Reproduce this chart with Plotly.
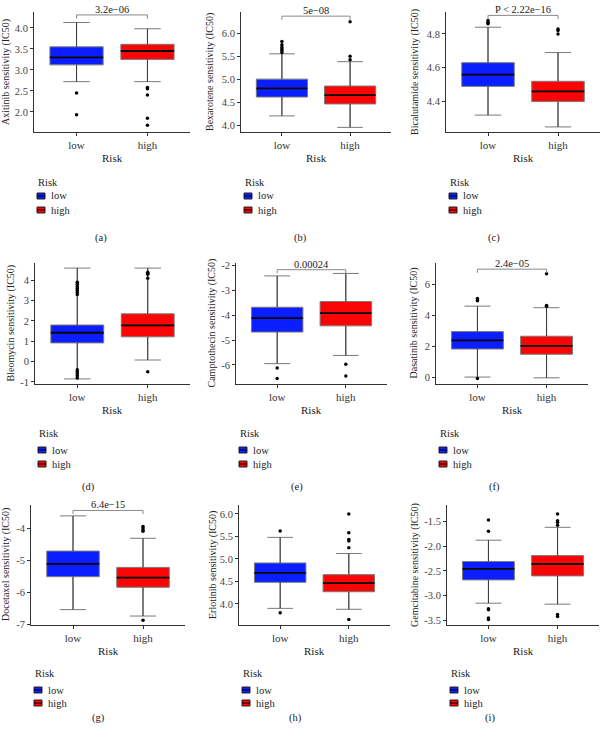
import plotly.graph_objects as go

W, H = 602, 731
FONT = "Liberation Serif"

drugs = ["Axitinib", "Bexarotene", "Bicalutamide", "Bleomycin", "Camptothecin",
         "Dasatinib", "Docetaxel", "Erlotinib", "Gemcitabine"]
pvals = ["3.2e\u221206", "5e\u221208", "P < 2.22e\u221216", "1.1e\u221209", "0.00024",
         "2.4e\u221205", "6.4e\u221215", "2.9e\u221215", "0.0002"]
has_bracket = [True, True, True, False, True, True, True, False, False]
bracket_y = [4.31, 6.37, 4.91, 5.35, -2.17, 7.0, -3.45, 6.23, -1.16]
panel_tags = ["(a)", "(b)", "(c)", "(d)", "(e)", "(f)", "(g)", "(h)", "(i)"]
groups = ["low", "high"]

# box statistics
low_q1 = [3.12, 4.61, 4.49, 0.92, -4.68, 1.82, -5.52, 4.48, -2.68]
low_med = [3.30, 4.80, 4.56, 1.42, -4.12, 2.38, -5.12, 4.69, -2.46]
low_q3 = [3.55, 5.00, 4.63, 1.80, -3.68, 2.95, -4.72, 4.91, -2.31]
low_lo = [2.72, 4.20, 4.32, -0.85, -5.95, 0.00, -6.55, 3.90, -3.15]
low_hi = [4.13, 5.55, 4.84, 4.60, -2.42, 4.60, -3.62, 5.48, -1.88]
low_out = [[2.45, 1.93],
           [5.58, 5.62, 5.66, 5.70, 5.75, 5.82],
           [4.86, 4.87, 4.88],
           [3.3, 3.4, 3.5, 3.6, 3.7, 3.8, 3.9, -0.4, -0.5, -0.6, -0.7, -0.8],
           [-6.13, -6.55],
           [4.95, 5.0, 5.1, -0.1],
           [],
           [5.62, 3.80],
           [-1.47, -1.70, -3.26, -3.28, -3.45, -3.48]]
high_q1 = [3.25, 4.46, 4.40, 1.22, -4.43, 1.48, -5.85, 4.27, -2.60]
high_med = [3.45, 4.65, 4.46, 1.78, -3.92, 2.02, -5.55, 4.46, -2.36]
high_q3 = [3.61, 4.85, 4.52, 2.35, -3.45, 2.65, -5.23, 4.65, -2.19]
high_lo = [2.72, 3.95, 4.25, 0.08, -5.62, -0.05, -6.75, 3.88, -3.17]
high_hi = [3.98, 5.38, 4.69, 4.60, -2.32, 4.50, -4.32, 5.12, -1.62]
high_out = [[2.58, 2.55, 2.40, 1.85, 1.68],
            [5.42, 5.50, 6.25],
            [4.80, 4.82, 4.83],
            [4.1, 4.3, 4.35, 4.4, -0.5],
            [-5.98, -6.45],
            [4.6, 4.65, 6.7],
            [-3.95, -4.0, -4.05, -4.1, -6.88],
            [5.25, 5.40, 5.43, 5.58, 6.0, 3.65],
            [-1.35, -1.49, -1.52, -1.58, -3.38, -3.42]]

# y-axis ticks
y_ticks = [[2.0, 2.5, 3.0, 3.5, 4.0], [4.0, 4.5, 5.0, 5.5, 6.0], [4.4, 4.6, 4.8],
           [-1, 0, 1, 2, 3, 4], [-6, -5, -4, -3, -2], [0, 2, 4, 6],
           [-7, -6, -5, -4], [4.0, 4.5, 5.0, 5.5, 6.0], [-3.5, -3.0, -2.5, -2.0, -1.5]]
y_fmt = [".1f", ".1f", ".1f", ".0f", ".0f", ".0f", ".0f", ".1f", ".1f"]
y_ranges = [[1.52, 4.38], [3.85, 6.46], [4.22, 4.93], [-1.1, 4.85], [-6.77, -1.9],
            [-0.45, 7.4], [-7.03, -3.28], [3.53, 6.2], [-3.59, -1.17]]

# layout (pixel positions)
x_px = [(34, 190), (241, 391), (446, 600),
        (35, 190), (236, 387), (436, 588),
        (31, 185), (239, 390), (447, 599)]
y_px = [(12, 132)] * 3 + [(263, 384)] * 3 + [(505, 625)] * 3
ytitle_x = [6, 210, 415, 10, 211, 413, 6, 213, 415]
tag_pos = [(93, 230), (300, 230), (502, 230),
           (80, 487), (297, 487), (502, 487),
           (90, 726), (295, 726), (497, 726)]
legend_rows_y = [(182, 196, 210)] * 3 + [(433, 450, 464)] * 3 + [(673, 690, 703)] * 3

colors = {"low": "#0a1eff", "high": "#fa0505"}
BOXW = 0.75
TXT = "#222222"


def px(x, y):
    return x / W, 1 - y / H


fig = go.Figure()
annotations = []
shapes = []

for i in range(9):
    ax = "" if i == 0 else str(i + 1)
    xa, ya = "x" + ax, "y" + ax
    stats = {
        "low": (low_q1[i], low_med[i], low_q3[i], low_lo[i], low_hi[i], low_out[i]),
        "high": (high_q1[i], high_med[i], high_q3[i], high_lo[i], high_hi[i], high_out[i]),
    }
    for gi, g in enumerate(groups):
        q1, md, q3, lo, hi, outs = stats[g]
        fig.add_trace(go.Box(
            x=[gi], q1=[q1], median=[md], q3=[q3], lowerfence=[lo], upperfence=[hi],
            width=BOXW, fillcolor=colors[g], line=dict(color="#7a7a7a", width=1),
            boxpoints=False, name=g, xaxis=xa, yaxis=ya, showlegend=False,
            hoverinfo="skip"))
        # darker whiskers
        fig.add_trace(go.Scatter(
            x=[gi, gi, None, gi, gi], y=[lo, q1, None, q3, hi], mode="lines",
            line=dict(color="#3a3a3a", width=1), showlegend=False,
            xaxis=xa, yaxis=ya, hoverinfo="skip"))
        # median
        fig.add_trace(go.Scatter(
            x=[gi - BOXW / 2, gi + BOXW / 2], y=[md, md], mode="lines",
            line=dict(color="black", width=1.8), showlegend=False,
            xaxis=xa, yaxis=ya, hoverinfo="skip"))
        if outs:
            fig.add_trace(go.Scatter(
                x=[gi] * len(outs), y=outs, mode="markers",
                marker=dict(color="black", size=3.5), showlegend=False,
                xaxis=xa, yaxis=ya, hoverinfo="skip"))

    x0, x1 = x_px[i][0] / W, x_px[i][1] / W
    y1, y0 = 1 - y_px[i][0] / H, 1 - y_px[i][1] / H
    yr = y_ranges[i]
    fmt = y_fmt[i]
    fig.update_layout(**{
        "xaxis" + ax: dict(domain=[x0, x1], range=[-0.6, 1.6], anchor=ya,
                           automargin=False,
                           tickvals=[0, 1], ticktext=groups, showline=True,
                           linecolor="#333333", linewidth=1, ticks="outside",
                           ticklen=3, tickcolor="#333333", showgrid=False, zeroline=False,
                           tickfont=dict(family=FONT, size=11, color="#333333")),
        "yaxis" + ax: dict(domain=[y0, y1], range=yr, anchor=xa, automargin=False,
                           tickvals=y_ticks[i],
                           ticktext=[format(v, fmt) for v in y_ticks[i]],
                           showline=True, linecolor="#333333", linewidth=1,
                           ticks="outside", ticklen=3, tickcolor="#333333",
                           showgrid=False, zeroline=False,
                           tickfont=dict(family=FONT, size=10.5, color="#444444")),
    })

    # axis titles
    cx = (x_px[i][0] + x_px[i][1]) / 2
    cy = (y_px[i][0] + y_px[i][1]) / 2
    ax_, ay_ = px(cx, y_px[i][1] + 26)
    annotations.append(dict(x=ax_, y=ay_, xref="paper", yref="paper", text="Risk",
                            showarrow=False, xanchor="center", yanchor="middle",
                            font=dict(family=FONT, size=11, color=TXT)))
    tx_, ty_ = px(ytitle_x[i], cy)
    annotations.append(dict(x=tx_, y=ty_, xref="paper", yref="paper",
                            text=drugs[i] + " sensitivity (IC50)", textangle=-90,
                            showarrow=False, xanchor="center", yanchor="middle",
                            font=dict(family=FONT, size=10, color=TXT)))

    # p-value bracket / label
    by = bracket_y[i]
    if has_bracket[i]:
        span = yr[1] - yr[0]
        tip = span * 0.03
        shapes.append(dict(type="path", xref=xa, yref=ya,
                           path=f"M 0 {by - tip} L 0 {by} L 1 {by} L 1 {by - tip}",
                           line=dict(color="#888888", width=1)))
        annotations.append(dict(x=0.5, y=by, xref=xa, yref=ya, text=pvals[i],
                                showarrow=False, yanchor="bottom", yshift=-2,
                                font=dict(family=FONT, size=10.5, color=TXT)))
    else:
        annotations.append(dict(x=0.5, y=by, xref=xa, yref=ya, text=pvals[i],
                                showarrow=False, yanchor="middle",
                                font=dict(family=FONT, size=10.5, color=TXT)))

    # panel tag
    tx, ty = tag_pos[i]
    px_, py_ = px(tx, ty)
    annotations.append(dict(x=px_, y=py_, xref="paper", yref="paper",
                            text=panel_tags[i], showarrow=False,
                            font=dict(family=FONT, size=10.5, color=TXT)))

    # legend (drawn manually to match compact ggplot legend)
    lx = x_px[i][0] + 2
    ly_title, ly_low, ly_high = legend_rows_y[i]
    lt = px(lx, ly_title)
    annotations.append(dict(x=lt[0], y=lt[1], xref="paper", yref="paper", text="Risk",
                            showarrow=False, xanchor="left", yanchor="middle",
                            font=dict(family=FONT, size=10.5, color=TXT)))
    for g, ly in zip(groups, (ly_low, ly_high)):
        kx = lx + 5
        k0 = px(kx - 4, ly - 3)
        k1 = px(kx + 4, ly + 3)
        shapes.append(dict(type="rect", xref="paper", yref="paper",
                           x0=k0[0], x1=k1[0], y0=k1[1], y1=k0[1],
                           fillcolor=colors[g], line=dict(color="#222222", width=1)))
        m0 = px(kx - 4, ly)
        m1 = px(kx + 4, ly)
        shapes.append(dict(type="line", xref="paper", yref="paper",
                           x0=m0[0], x1=m1[0], y0=m0[1], y1=m1[1],
                           line=dict(color="black", width=1)))
        tp = px(kx + 8, ly)
        annotations.append(dict(x=tp[0], y=tp[1], xref="paper", yref="paper", text=g,
                                showarrow=False, xanchor="left", yanchor="middle",
                                font=dict(family=FONT, size=10.5, color=TXT)))

fig.update_layout(width=W, height=H, margin=dict(l=0, r=0, t=0, b=0, autoexpand=False),
                  paper_bgcolor="white", plot_bgcolor="white", showlegend=False,
                  annotations=annotations, shapes=shapes,
                  font=dict(family=FONT))

fig.write_html("out.html", config={"displayModeBar": False},
               post_script="document.body.style.margin='0';document.body.style.overflow='hidden';")
